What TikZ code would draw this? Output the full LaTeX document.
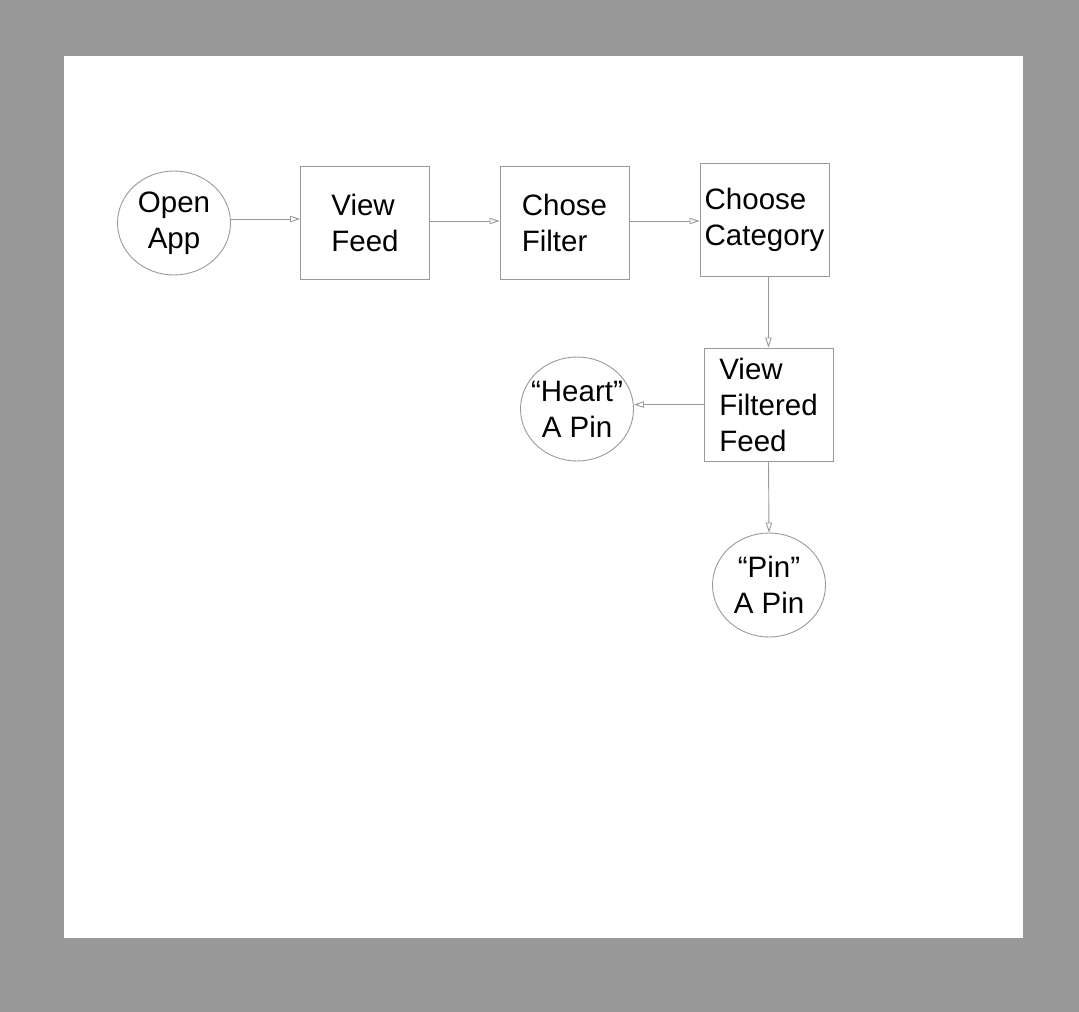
\documentclass[tikz,border=0pt]{standalone}
\usepackage{fontspec}
\setmainfont{Liberation Sans}
\usetikzlibrary{arrows.meta,shapes.geometric}
\definecolor{bggray}{HTML}{989898}
\definecolor{linegray}{HTML}{9A9A9A}
\begin{document}
\begin{tikzpicture}[x=1pt,y=-1pt,
  base/.style={draw=linegray, line width=0.9pt, inner sep=0pt, font=\fontsize{29.5}{36}\selectfont, align=left, text=black},
  oval/.style={base, ellipse, minimum width=113, minimum height=104, inner xsep=-25pt, inner ysep=-15pt, align=center},
  box/.style={base, rectangle, minimum width=129, minimum height=113},
  conn/.style={draw=linegray, line width=0.9pt, -{Triangle[open, length=10pt, width=6.5pt]}}]
\fill[bggray] (0,0) rectangle (1079,1012);
\fill[white] (64,56) rectangle (1023,938);
\node[oval] (open) at (174,223) {Open\\App};
\node[box] (feed) at (365,222.5) {View\\Feed};
\node[box] (filter) at (564.5,222.5) {Chose\\Filter};
\node[box] (cat) at (764.5,219.5) {Choose\\Category};
\node[box] (vff) at (768.5,404.5) {View\\Filtered\\Feed};
\node[oval] (heart) at (577,409) {“Heart”\\A Pin};
\node[oval] (pin) at (769,585) {“Pin”\\A Pin};
\draw[conn] (open.east |- 0,219) -- (feed.west |- 0,219);
\draw[conn] (feed.east |- 0,221) -- (filter.west |- 0,221);
\draw[conn] (filter.east |- 0,221) -- (cat.west |- 0,221);
\draw[conn] (cat.south -| vff.north) -- (vff.north);
\draw[conn] (vff.west) -- (vff.west -| heart.east);
\draw[conn] (vff.south) -- (pin.north);
\end{tikzpicture}
\end{document}
